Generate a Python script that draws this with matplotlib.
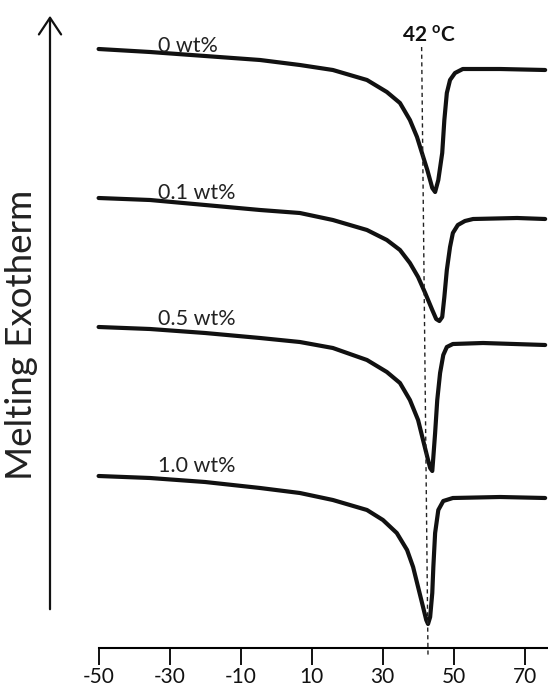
import matplotlib
matplotlib.use("Agg")
import matplotlib.pyplot as plt

plt.rcParams['font.family'] = ['Lato', 'DejaVu Sans']
plt.rcParams['mathtext.fontset'] = 'custom'
plt.rcParams['mathtext.rm'] = 'Lato'
plt.rcParams['mathtext.bf'] = 'Lato:bold'

# ---- data (temperature in deg C, heat flow in arbitrary offset units) ----
t0 = [-50.0, -35.5, -20.0, -4.5, 6.7, 16.0, 25.6, 31.2, 34.9, 37.7, 39.7, 41.1,
      42.6, 44.0, 44.8, 45.7, 46.8, 47.4, 48.1, 49.0, 50.4, 52.6, 63.1, 75.8]
h0 = [59.9, 59.6, 59.2, 58.8, 58.3, 57.8, 56.8, 55.6, 54.5, 52.8, 51.1, 49.5,
      47.8, 46.0, 45.6, 46.8, 49.5, 52.8, 55.5, 56.8, 57.5, 57.9, 57.9, 57.8]

t1 = [-50.0, -35.5, -20.0, -4.5, 6.7, 16.0, 25.6, 31.2, 34.9, 37.7, 40.0, 42.0,
      44.0, 45.1, 46.0, 46.8, 47.4, 48.1, 49.0, 49.8, 51.2, 53.2, 55.5, 67.9, 75.8]
h1 = [45.0, 44.8, 44.3, 43.8, 43.5, 42.8, 41.8, 40.8, 39.8, 38.5, 37.1, 35.5,
      33.8, 32.9, 32.7, 33.1, 35.1, 37.8, 40.1, 41.5, 42.3, 42.7, 42.9, 43.0, 42.9]

t2 = [-50.0, -35.5, -20.0, -4.5, 6.7, 16.0, 25.6, 31.2, 34.9, 37.7, 40.0, 41.4,
      42.6, 43.4, 44.0, 44.3, 44.8, 45.4, 46.2, 47.1, 48.1, 49.8, 58.3, 75.8]
h2 = [32.1, 31.9, 31.5, 31.0, 30.6, 30.0, 28.8, 27.6, 26.5, 24.8, 22.8, 20.8,
      19.1, 18.0, 17.7, 19.1, 21.5, 24.8, 27.5, 29.3, 30.1, 30.4, 30.5, 30.3]

t3 = [-50.0, -35.5, -20.0, -4.5, 6.7, 16.0, 25.6, 30.1, 34.0, 36.9, 38.6, 40.0,
      41.4, 42.3, 42.8, 43.4, 44.0, 44.3, 44.8, 45.7, 47.1, 49.8, 63.1, 75.8]
h3 = [17.2, 17.0, 16.6, 16.0, 15.5, 14.8, 13.8, 12.8, 11.5, 9.8, 8.1, 6.1,
      4.1, 2.8, 2.4, 3.1, 5.5, 8.1, 11.5, 13.8, 14.7, 15.0, 15.1, 15.0]

curves = [(t0, h0), (t1, h1), (t2, h2), (t3, h3)]
labels = ['0 wt%', '0.1 wt%', '0.5 wt%', '1.0 wt%']
label_x = [-33.3, -33.3, -33.3, -33.3]
label_y = [59.6, 44.9, 32.3, 17.6]

xticks = [-50, -30, -10, 10, 30, 50, 70]
melt_line_x = [41.0, 42.8]
melt_line_y = [60.1, -0.9]
melt_label = r'42 $^{\mathbf{o}}$C'

W, H = 548, 692
fig = plt.figure(figsize=(W / 100, H / 100), dpi=100)
ax = fig.add_axes([98.6 / W, (H - 648) / H, (W - 98.6) / W, 648 / H])
ax.set_xlim(-50, 76.6)
ax.set_ylim(0, 64.8)

for (t, h) in curves:
    ax.plot(t, h, color='#111111', lw=3.0, solid_capstyle='round',
            solid_joinstyle='round', clip_on=False)

for lab, lx, ly in zip(labels, label_x, label_y):
    ax.text(lx, ly, lab, fontsize=15.5, ha='left', va='baseline', color='#222222')

ax.plot(melt_line_x, melt_line_y, color='#222222', lw=1.0,
        dashes=(3, 2.5), clip_on=False)
ax.text(35.5, 60.6, melt_label, fontsize=15, fontweight='bold',
        ha='left', va='baseline', color='#111111')

for s in ['top', 'right', 'left']:
    ax.spines[s].set_visible(False)
ax.spines['bottom'].set_linewidth(1.5)
ax.set_yticks([])
ax.set_xticks(xticks)
ax.set_xticklabels([str(v) for v in xticks])
ax.tick_params(axis='x', direction='out', length=12.0, width=1.4,
               labelsize=15, pad=2, colors='#111111')

# y-axis arrow
fig.add_artist(matplotlib.patches.FancyArrowPatch(
    (50 / W, (H - 612) / H), (50 / W, (H - 13) / H),
    transform=fig.transFigure, arrowstyle='->,head_length=0.6,head_width=0.4',
    mutation_scale=20, lw=1.6, color='#111111'))
fig.text(22 / W, (H - 335) / H, 'Melting Exotherm', rotation=90,
         fontsize=26.5, ha='center', va='center', color='#222222')

fig.savefig('out.png', dpi=100)
